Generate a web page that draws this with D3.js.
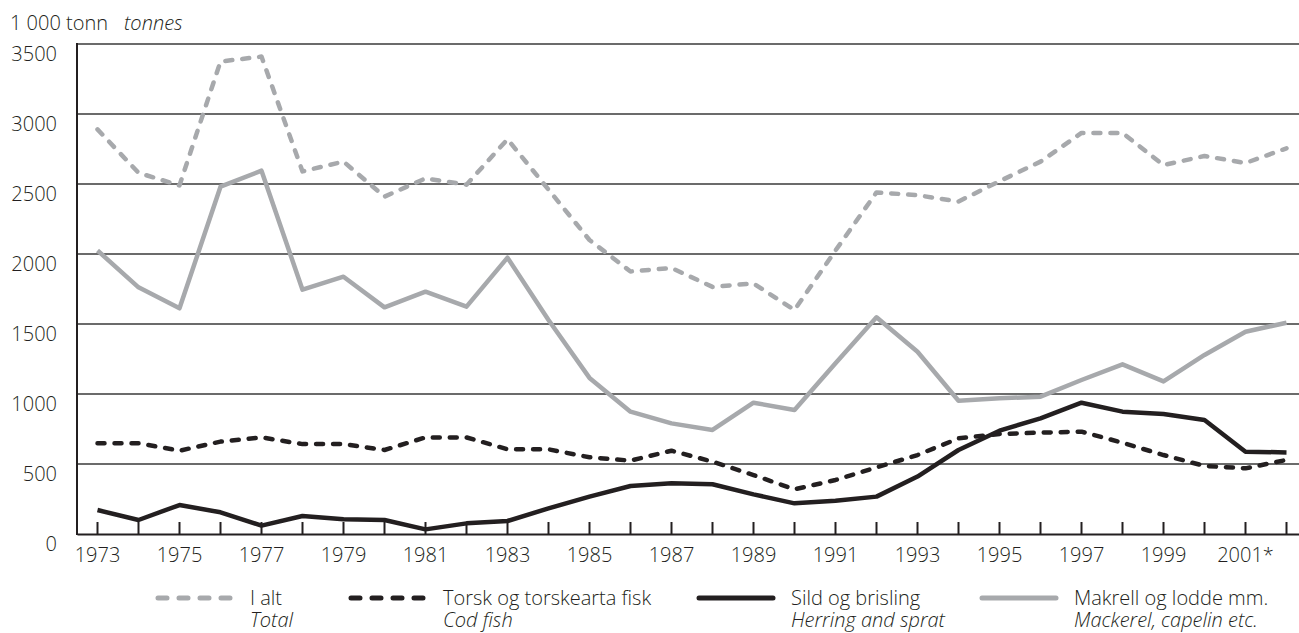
<!DOCTYPE html>
<html>
<head>
<meta charset="utf-8">
<script src="https://cdn.jsdelivr.net/npm/d3@7"></script>
<style>
  body { margin: 0; background: #fff; }
  svg text { font-family: "Open Sans", "Noto Sans", sans-serif; font-weight: 300; fill: #231f20; }
</style>
</head>
<body>
<div id="chart"></div>
<script>
// Chart values (1000 tonnes)
const years = d3.range(1973, 2003);
const yearLabels = years.map(y => y === 2001 ? "2001*" : String(y));

const total = [2890, 2580, 2490, 3375, 3410, 2590, 2660, 2410, 2540, 2495, 2820, 2460, 2100, 1875, 1900, 1765, 1790, 1600, 2025, 2440, 2420, 2375, 2520, 2660, 2865, 2865, 2635, 2700, 2650, 2755];
const codFish = [648, 648, 595, 660, 690, 642, 642, 600, 690, 690, 605, 605, 548, 524, 595, 517, 421, 319, 386, 476, 564, 683, 714, 724, 731, 652, 564, 486, 469, 529];
const herring = [171, 100, 207, 155, 60, 129, 105, 100, 33, 76, 93, 183, 267, 343, 362, 355, 283, 219, 238, 267, 410, 600, 738, 826, 938, 874, 857, 814, 588, 583];
const mackerel = [2025, 1762, 1612, 2481, 2595, 1745, 1838, 1619, 1731, 1624, 1974, 1529, 1115, 874, 790, 743, 938, 886, 1219, 1548, 1302, 952, 969, 981, 1100, 1212, 1090, 1279, 1445, 1509];

const yTicks = [0, 500, 1000, 1500, 2000, 2500, 3000, 3500];

const series = [
  { no: "I alt", en: "Total", values: total, color: "#a7a9ac", dash: "7,10" },
  { no: "Torsk og torskearta fisk", en: "Cod fish", values: codFish, color: "#231f20", dash: "7,10" },
  { no: "Sild og brisling", en: "Herring and sprat", values: herring, color: "#231f20", dash: null },
  { no: "Makrell og lodde mm.", en: "Mackerel, capelin etc.", values: mackerel, color: "#a7a9ac", dash: null }
];

// Layout
const width = 1299;
const height = 633;
const margin = { left: 77, top: 44, bottom: 99 };
const plotRight = 1307;
const fontSize = "20px";

const svg = d3.select("#chart")
  .append("svg")
  .attr("width", width)
  .attr("height", height);

// Scales
const x = d3.scaleBand()
  .domain(years)
  .range([margin.left, plotRight]);

const y = d3.scaleLinear()
  .domain([0, 3500])
  .range([height - margin.bottom, margin.top]);

const xc = d => x(d) + x.bandwidth() / 2;

// Gridlines
svg.append("g")
  .selectAll("line")
  .data(yTicks.filter(t => t > 0))
  .enter()
  .append("line")
  .attr("x1", margin.left)
  .attr("x2", plotRight)
  .attr("y1", d => y(d))
  .attr("y2", d => y(d))
  .style("stroke", "#3a3a3a")
  .style("stroke-width", 1.3);

// Y axis labels (sit just under each gridline)
svg.append("g")
  .selectAll("text")
  .data(yTicks)
  .enter()
  .append("text")
  .attr("x", 57)
  .attr("y", d => y(d) + 17)
  .attr("text-anchor", "end")
  .attr("font-size", fontSize)
  .text(d => d);

// Y axis line
svg.append("line")
  .attr("x1", margin.left)
  .attr("x2", margin.left)
  .attr("y1", y(3500) - 1)
  .attr("y2", y(0) + 1)
  .style("stroke", "#231f20")
  .style("stroke-width", 2);

// X axis: ticks pointing up, labels every second year
const xAxis = d3.axisBottom(x)
  .tickSizeInner(-12)
  .tickSizeOuter(0)
  .tickPadding(14)
  .tickFormat((d, i) => i % 2 === 0 ? yearLabels[i] : "");

const gx = svg.append("g")
  .attr("transform", `translate(0,${y(0)})`)
  .call(xAxis);

gx.select(".domain")
  .style("stroke", "#231f20")
  .style("stroke-width", 2.2);
gx.selectAll(".tick line")
  .style("stroke", "#231f20")
  .style("stroke-width", 2);
gx.selectAll(".tick text")
  .attr("font-size", fontSize)
  .style("font-family", "\"Open Sans\", sans-serif")
  .style("font-weight", 300)
  .style("fill", "#231f20");

// Lines
const line = d3.line()
  .x((d, i) => xc(years[i]))
  .y(d => y(d));

svg.append("g")
  .selectAll("path")
  .data(series)
  .enter()
  .append("path")
  .attr("d", d => line(d.values))
  .style("fill", "none")
  .style("stroke", d => d.color)
  .style("stroke-width", 4.5)
  .style("stroke-linejoin", "round")
  .style("stroke-linecap", d => d.dash ? "round" : "butt")
  .style("stroke-dasharray", d => d.dash);

// Title
svg.append("text")
  .attr("x", 10)
  .attr("y", 30)
  .attr("font-size", fontSize)
  .text("1 000 tonn");
svg.append("text")
  .attr("x", 124)
  .attr("y", 30)
  .attr("font-size", fontSize)
  .style("font-style", "italic")
  .text("tonnes");

// Legend
const legendX = [155, 348, 696, 979];
const legend = svg.append("g")
  .selectAll("g")
  .data(series)
  .enter()
  .append("g")
  .attr("transform", (d, i) => `translate(${legendX[i]},598)`);

legend.append("line")
  .attr("x1", 3)
  .attr("x2", 77)
  .style("stroke", d => d.color)
  .style("stroke-width", 5)
  .style("stroke-linecap", "round")
  .style("stroke-dasharray", d => d.dash ? "9,12" : null);

legend.append("text")
  .attr("x", 95)
  .attr("y", 7)
  .attr("font-size", fontSize)
  .text(d => d.no);

legend.append("text")
  .attr("x", 95)
  .attr("y", 29)
  .attr("font-size", fontSize)
  .style("font-style", "italic")
  .text(d => d.en);
</script>
</body>
</html>
